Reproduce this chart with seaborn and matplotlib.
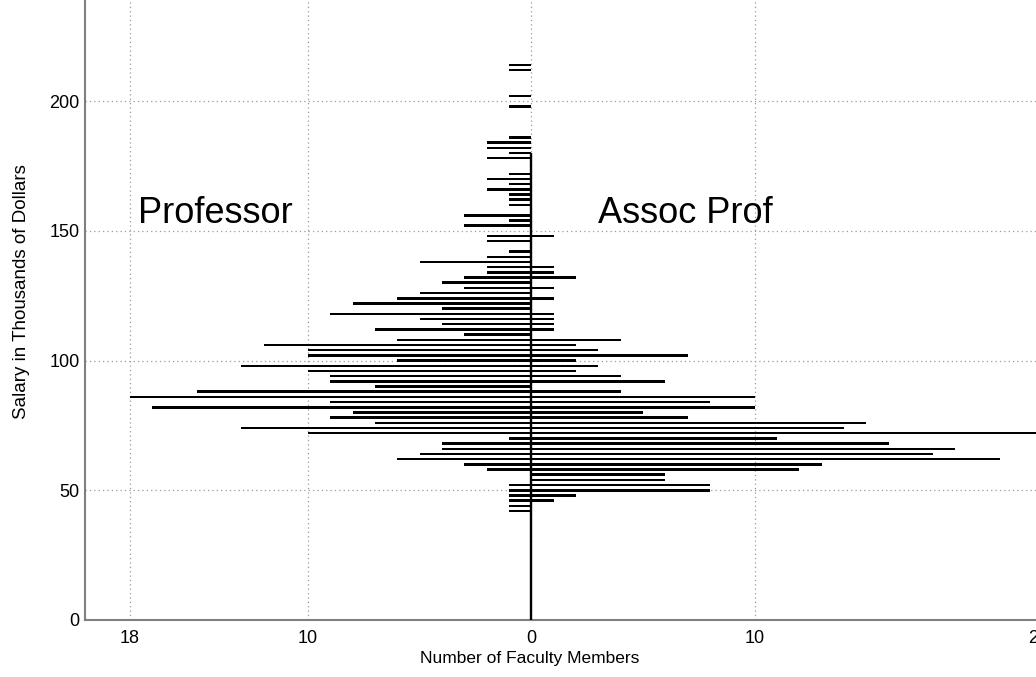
import numpy as np
import pandas as pd
import matplotlib
matplotlib.use("Agg")
import matplotlib.pyplot as plt
import seaborn as sns

# salary bins (thousands of dollars), top to bottom
salary = [214, 212, 210, 208, 206, 204, 202, 200, 198, 196, 194, 192, 190, 188, 186,
          184, 182, 180, 178, 176, 174, 172, 170, 168, 166, 164, 162, 160, 158, 156,
          154, 152, 150, 148, 146, 144, 142, 140, 138, 136, 134, 132, 130, 128, 126,
          124, 122, 120, 118, 116, 114, 112, 110, 108, 106, 104, 102, 100, 98, 96,
          94, 92, 90, 88, 86, 84, 82, 80, 78, 76, 74, 72, 70, 68, 66,
          64, 62, 60, 58, 56, 54, 52, 50, 48, 46, 44, 42]

professor = [1, 1, 0, 0, 0, 0, 1, 0, 1, 0, 0, 0, 0, 0, 1,
             2, 2, 1, 2, 0, 0, 1, 2, 1, 2, 1, 1, 1, 0, 3,
             1, 3, 0, 2, 2, 0, 1, 2, 5, 2, 2, 3, 4, 3, 5,
             6, 8, 4, 9, 5, 4, 7, 3, 6, 12, 10, 10, 6, 13, 10,
             9, 9, 7, 15, 18, 9, 17, 8, 9, 7, 13, 10, 1, 4, 4,
             5, 6, 3, 2, 0, 0, 1, 1, 1, 1, 1, 1]

assoc_prof = [0, 0, 0, 0, 0, 0, 0, 0, 0, 0, 0, 0, 0, 0, 0,
              0, 0, 0, 0, 0, 0, 0, 0, 0, 0, 0, 0, 0, 0, 0,
              0, 0, 0, 1, 0, 0, 0, 0, 0, 1, 1, 2, 0, 1, 0,
              1, 0, 0, 1, 1, 1, 1, 0, 4, 2, 3, 7, 2, 3, 2,
              4, 6, 0, 4, 10, 8, 10, 5, 7, 15, 14, 24, 11, 16, 19,
              18, 21, 13, 12, 6, 6, 8, 8, 2, 1, 0, 0]

assoc_line_top = 180  # the zero line of the Assoc Prof side
x_ticks = [-18, -10, 0, 10, 22.7]
x_tick_labels = ["18", "10", "0", "10", "23"]
y_ticks = [0, 50, 100, 150, 200]

df = pd.DataFrame({"Salary": salary,
                   "Professor": [-v for v in professor],
                   "Assoc Prof": assoc_prof})

sns.set_theme(style="white")
plt.rcParams['font.family'] = ['Liberation Sans', 'DejaVu Sans']
plt.rcParams['text.color'] = 'black'
plt.rcParams['axes.labelcolor'] = 'black'

fig = plt.figure(figsize=(10.36, 6.77), dpi=100)
ax = fig.add_axes([0.082, 0.0842, 0.920, 0.9197])

# dotted grid first so the bars sit on top
ax.grid(True, linestyle=(0, (1, 2.5)), color="#9a9a9a", linewidth=0.9)
ax.set_axisbelow(True)

sns.barplot(data=df, x="Professor", y="Salary", orient="h", native_scale=True,
            color="black", width=0.48, linewidth=0, errorbar=None, ax=ax)
sns.barplot(data=df, x="Assoc Prof", y="Salary", orient="h", native_scale=True,
            color="black", width=0.48, linewidth=0, errorbar=None, ax=ax)

ax.vlines(0, 0, assoc_line_top, color="black", linewidth=1.7, zorder=3)

ax.set_xlim(-20, 22.7)
ax.set_ylim(0, 240)
ax.set_xticks(x_ticks)
ax.set_xticklabels(x_tick_labels)
ax.set_yticks(y_ticks)

for side in ["top", "right"]:
    ax.spines[side].set_visible(False)
for side in ["left", "bottom"]:
    ax.spines[side].set_color("#808080")
    ax.spines[side].set_linewidth(1.5)

ax.tick_params(axis="both", direction="in", length=5, width=1.2, color="#808080",
               labelsize=13, labelcolor="black")
ax.tick_params(axis="y", pad=4)
ax.tick_params(axis="x", pad=7, length=0)

ax.set_xlabel("Number of Faculty Members", fontsize=12.5)
ax.set_ylabel("Salary in Thousands of Dollars", fontsize=13.5)
ax.xaxis.set_label_coords(0.467, -0.05)
ax.yaxis.set_label_coords(-0.058, 0.527)

ax.text(-17.64, 153.2, "Professor", fontsize=26, ha="left", va="baseline")
ax.text(3.0, 153.2, "Assoc Prof", fontsize=26, ha="left", va="baseline")

fig.savefig("out.png", dpi=100)
